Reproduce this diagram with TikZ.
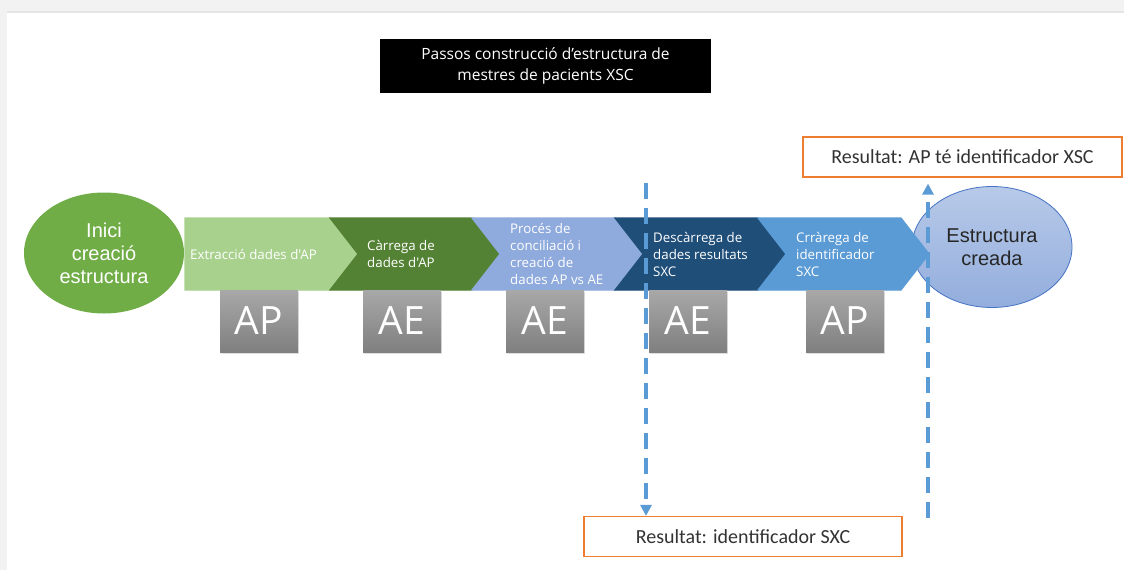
\documentclass[tikz,border=0pt]{standalone}
\usepackage{fontspec}
\setmainfont{Liberation Sans}
\newfontfamily\calibri{Carlito}
\newfontfamily\segoe{Open Sans}
\usetikzlibrary{arrows.meta,shadows,shapes.geometric}

\definecolor{lgreen}{HTML}{A9D18E}
\definecolor{dgreen}{HTML}{548235}
\definecolor{lblue}{HTML}{8FAADC}
\definecolor{navy}{HTML}{1F4E79}
\definecolor{mblue}{HTML}{5B9BD5}
\definecolor{startgreen}{HTML}{70AD47}
\definecolor{endblue}{HTML}{4472C4}
\definecolor{orangeline}{HTML}{ED7D31}
\definecolor{frame}{HTML}{F2F2F2}

\tikzset{
  chev/.style={draw=white, line width=1.2pt, line join=miter},
  chevtext/.style={anchor=west, align=left, text=white, inner sep=0pt,
    font=\segoe\fontsize{13.3}{17}\selectfont},
  tag/.style={minimum width=78pt, minimum height=62pt, inner sep=0pt,
    top color=black!34, bottom color=black!50, draw=none,
    drop shadow={opacity=0.25, shadow xshift=1pt, shadow yshift=-2pt},
    text=white, font=\segoe\fontsize{39}{39}\selectfont},
  result/.style={draw=orangeline, line width=1.2pt, fill=white, inner sep=0pt,
    minimum height=40pt, text=black!80, font=\calibri\fontsize{20}{22}\selectfont},
  flowarrow/.style={draw=mblue, line width=3.6pt, dash pattern=on 16pt off 9pt,
    -{Triangle[length=11pt,width=11pt]}},
  blob/.style={ellipse, inner sep=0pt, minimum width=160pt, minimum height=121pt,
    align=center, font=\fontsize{20}{23}\selectfont}
}

\begin{document}
\begin{tikzpicture}[x=1pt,y=-1pt]
  \useasboundingbox (0,0) rectangle (1124,570);
  % window frame
  \fill[white] (0,0) rectangle (1124,570);
  \fill[frame] (0,0) rectangle (1124,12);
  \fill[black!10] (0,11) rectangle (1124,12.5);
  \fill[frame] (0,0) rectangle (7,570);

  % title
  \node[fill=black, minimum width=331pt, minimum height=54pt, inner sep=0pt,
        align=center, text=white, font=\segoe\fontsize{15.5}{21}\selectfont]
    (title) at (545.5,66) {Passos construcció d’estructura de\\mestres de pacients XSC};

  % start and end ellipses
  \node[blob, fill=startgreen, text=white] (start) at (104,253)
    {Inici\\creació\\estructura};
  \node[blob, top color=endblue!38, bottom color=endblue!58, draw=endblue,
        line width=0.8pt, text=black!85] (done) at (992,247)
    {Estructura\\creada};

  % process chevrons
  \fill[chev, lgreen] (185,218) -- (330,218) -- (358,254) -- (330,290) -- (185,290) -- cycle;
  \fill[chev, dgreen] (330,218) -- (472,218) -- (500,254) -- (472,290) -- (330,290) -- (358,254) -- cycle;
  \fill[chev, lblue]  (472,218) -- (615,218) -- (643,254) -- (615,290) -- (472,290) -- (500,254) -- cycle;
  \fill[chev, navy]   (615,218) -- (758,218) -- (786,254) -- (758,290) -- (615,290) -- (643,254) -- cycle;
  \fill[chev, mblue]  (758,218) -- (901,218) -- (929,254) -- (901,290) -- (758,290) -- (786,254) -- cycle;

  \node[chevtext] (s1) at (190,254) {Extracció dades d'AP};
  \node[chevtext] (s2) at (367,254) {Càrrega de\\dades d'AP};
  \node[chevtext] (s3) at (510,254) {Procés de\\conciliació i\\creació de\\dades AP vs AE};
  \node[chevtext] (s4) at (653,254) {Descàrrega de\\dades resultats\\SXC};
  \node[chevtext] (s5) at (796,254) {Crràrega de\\identificador\\SXC};

  % system tags
  \node[tag] (g1) at (259,321) {AP};
  \node[tag] (g2) at (402,321) {AE};
  \node[tag] (g3) at (545,321) {AE};
  \node[tag] (g4) at (688,321) {AE};
  \node[tag] (g5) at (845,321) {AP};

  % results
  \node[result, minimum width=319pt] (res1) at (962.5,157) {Resultat: AP té identificador XSC};
  \node[result, minimum width=318pt] (res2) at (743,536.5) {Resultat: identificador SXC};

  % result flows
  \coordinate (from1) at (646,183);
  \coordinate (from2) at (928,518);
  \draw[flowarrow] (from1) -- (res2.north -| from1);
  \draw[flowarrow, shorten >=6pt] (from2) -- (res1.south -| from2);
\end{tikzpicture}
\end{document}
